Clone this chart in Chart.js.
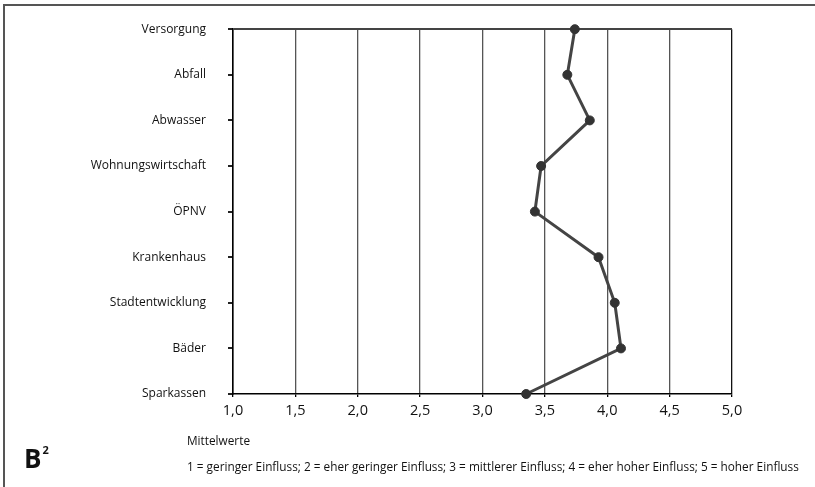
<!DOCTYPE html>
<html>
<head>
<meta charset="utf-8">
<script src="https://cdn.jsdelivr.net/npm/chart.js@4.4.1/dist/chart.umd.min.js"></script>
<style>
  html, body { margin: 0; padding: 0; background: #fff; }
  #wrap { position: relative; width: 815px; height: 487px; overflow: hidden; font-family: "Open Sans", sans-serif; color: #111; }
  #frameTop { position: absolute; left: 3px; top: 4px; width: 812px; height: 2px; background: #555; }
  #frameLeft { position: absolute; left: 3px; top: 4px; width: 2px; height: 483px; background: #555; }
  canvas { position: absolute; left: 0; top: 0; }
  .note { position: absolute; white-space: nowrap; font-size: 11.8px; line-height: 16px; }
  #mw { left: 187px; top: 432px; }
  #leg { left: 187px; top: 458px; }
  #bb { position: absolute; left: 24px; top: 441px; font-weight: bold; font-size: 26px; line-height: 34px; }
  #bb sup { font-size: 11px; position: relative; top: 3px; margin-left: 1px; vertical-align: top; line-height: 11px; }
</style>
</head>
<body>
<div id="wrap">
  <canvas id="c" width="815" height="487"></canvas>
  <div id="frameTop"></div>
  <div id="frameLeft"></div>
  <div class="note" id="mw">Mittelwerte</div>
  <div class="note" id="leg">1 = geringer Einfluss; 2 = eher geringer Einfluss; 3 = mittlerer Einfluss; 4 = eher hoher Einfluss; 5 = hoher Einfluss</div>
  <div id="bb">B<sup>2</sup></div>
</div>
<script>
const categories = ["Versorgung", "Abfall", "Abwasser", "Wohnungswirtschaft", "ÖPNV", "Krankenhaus", "Stadtentwicklung", "Bäder", "Sparkassen"];
const meanValues = [3.74, 3.68, 3.86, 3.47, 3.42, 3.93, 4.06, 4.11, 3.35];
const xTickValues = [1.0, 1.5, 2.0, 2.5, 3.0, 3.5, 4.0, 4.5, 5.0];
const xMin = 1, xMax = 5;

new Chart(document.getElementById('c'), {
  type: 'line',
  data: {
    labels: categories,
    datasets: [{
      data: meanValues,
      borderColor: '#444',
      borderWidth: 3,
      pointRadius: 4.5,
      pointBackgroundColor: '#333',
      pointBorderColor: '#333',
      pointBorderWidth: 1,
      tension: 0,
      fill: false,
      clip: false
    }]
  },
  options: {
    indexAxis: 'y',
    responsive: false,
    animation: false,
    devicePixelRatio: 1,
    layout: { padding: { left: 0, top: 29, right: 83, bottom: 63 } },
    plugins: { legend: { display: false }, tooltip: { enabled: false } },
    scales: {
      x: {
        type: 'linear',
        min: xMin, max: xMax,
        afterBuildTicks: (s) => { s.ticks = xTickValues.map(v => ({ value: v })); },
        afterFit: (s) => { s.height = 30; },
        border: { display: true, color: '#000', width: 1.5 },
        grid: {
          color: (ctx) => (ctx.tick && (ctx.tick.value === 1 || ctx.tick.value === 5)) ? '#111' : '#555',
          lineWidth: 1.3,
          tickLength: 3,
          tickColor: '#000'
        },
        ticks: {
          color: '#111',
          padding: 5,
          font: { family: 'Open Sans', size: 14.5 },
          callback: (v) => Number(v).toFixed(1).replace('.', ',')
        }
      },
      y: {
        type: 'category',
        offset: false,
        afterFit: (s) => { s.width = 233; },
        border: { display: true, color: '#000', width: 1.5 },
        grid: {
          color: (ctx) => ctx.index === 0 ? '#444' : 'rgba(0,0,0,0)',
          lineWidth: 2,
          tickLength: 5,
          tickColor: '#222',
          drawTicks: true
        },
        ticks: {
          color: '#111',
          padding: 22,
          font: { family: 'Open Sans', size: 12 }
        }
      }
    }
  }
});
</script>
</body>
</html>
